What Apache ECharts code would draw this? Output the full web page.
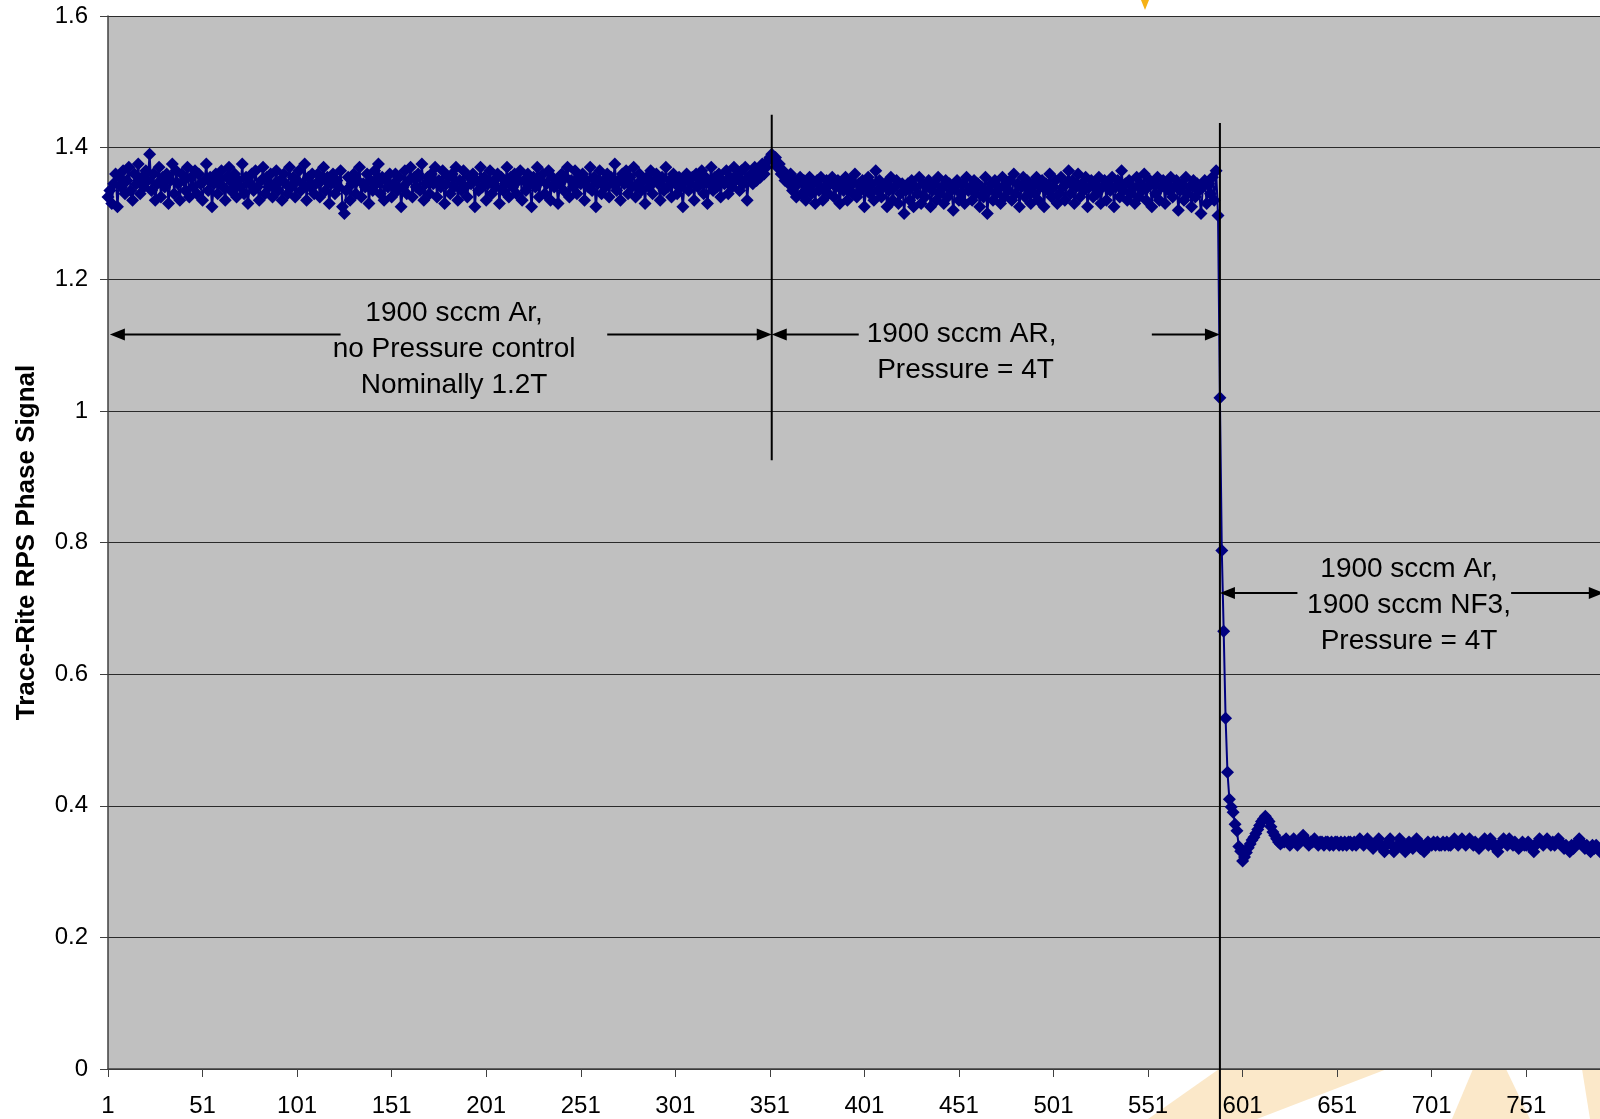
<!DOCTYPE html>
<html><head><meta charset="utf-8">
<script src="https://cdn.jsdelivr.net/npm/echarts@6/dist/echarts.min.js"></script>
<style>html,body{margin:0;padding:0;background:#fff}#chart{width:1600px;height:1119px}</style>
</head><body><div id="chart"></div>
<script>
// Sample 1..351 : 1900 sccm Ar, no pressure control
const seg1ArNoControl = [
1.325,1.335,1.315,1.345,1.36,1.31,1.355,1.34,1.365,1.33,
1.35,1.37,1.335,1.32,1.36,1.345,1.375,1.33,1.355,1.34,
1.365,1.35,1.39,1.335,1.36,1.32,1.345,1.37,1.325,1.355,
1.34,1.36,1.315,1.35,1.375,1.33,1.365,1.345,1.32,1.36,
1.35,1.335,1.37,1.325,1.355,1.34,1.365,1.33,1.36,1.345,
1.32,1.35,1.375,1.335,1.355,1.31,1.345,1.36,1.33,1.35,
1.365,1.34,1.32,1.355,1.37,1.335,1.345,1.36,1.325,1.35,
1.34,1.375,1.33,1.355,1.315,1.345,1.36,1.335,1.365,1.34,
1.32,1.35,1.37,1.33,1.355,1.34,1.36,1.325,1.345,1.365,
1.335,1.35,1.32,1.36,1.345,1.33,1.37,1.34,1.355,1.325,
1.35,1.365,1.335,1.345,1.375,1.32,1.355,1.34,1.36,1.33,
1.345,1.36,1.325,1.35,1.37,1.335,1.355,1.315,1.345,1.36,
1.33,1.35,1.34,1.365,1.31,1.30,1.335,1.355,1.32,1.345,
1.36,1.33,1.35,1.37,1.325,1.345,1.34,1.36,1.315,1.35,
1.335,1.365,1.345,1.375,1.33,1.355,1.32,1.35,1.34,1.36,
1.325,1.345,1.36,1.335,1.355,1.31,1.34,1.365,1.33,1.35,
1.37,1.325,1.355,1.34,1.36,1.335,1.375,1.32,1.345,1.355,
1.33,1.36,1.345,1.37,1.325,1.35,1.34,1.365,1.315,1.345,
1.355,1.33,1.36,1.34,1.37,1.32,1.35,1.335,1.365,1.34,
1.325,1.355,1.345,1.36,1.31,1.35,1.335,1.37,1.34,1.355,
1.32,1.345,1.365,1.33,1.35,1.34,1.36,1.315,1.355,1.335,
1.345,1.37,1.325,1.355,1.34,1.36,1.33,1.35,1.365,1.32,
1.35,1.335,1.36,1.345,1.31,1.355,1.34,1.37,1.325,1.35,
1.36,1.33,1.345,1.365,1.32,1.355,1.34,1.35,1.315,1.345,
1.36,1.335,1.355,1.37,1.325,1.35,1.34,1.365,1.33,1.355,
1.345,1.36,1.32,1.35,1.34,1.37,1.335,1.355,1.31,1.345,
1.365,1.33,1.35,1.34,1.36,1.325,1.355,1.345,1.375,1.335,
1.35,1.32,1.36,1.345,1.365,1.33,1.355,1.34,1.37,1.325,
1.345,1.36,1.335,1.35,1.315,1.355,1.34,1.365,1.33,1.35,
1.36,1.345,1.32,1.355,1.335,1.37,1.34,1.35,1.325,1.36,
1.345,1.33,1.355,1.34,1.31,1.35,1.36,1.335,1.345,1.355,
1.32,1.36,1.34,1.35,1.365,1.33,1.355,1.315,1.345,1.37,
1.335,1.355,1.34,1.36,1.325,1.35,1.345,1.365,1.33,1.355,
1.34,1.37,1.35,1.36,1.335,1.365,1.345,1.37,1.32,1.355,
1.36,1.345,1.37,1.35,1.365,1.355,1.375,1.36,1.37,1.38,
1.385
];
// Sample 352..588 : 1900 sccm AR, Pressure = 4T
const seg2ArPressure4T = [
1.39,1.38,1.385,1.37,1.375,1.36,1.365,1.35,1.355,1.345,
1.36,1.335,1.35,1.325,1.345,1.355,1.33,1.35,1.32,1.34,
1.355,1.33,1.345,1.315,1.35,1.335,1.355,1.32,1.34,1.35,
1.33,1.345,1.355,1.325,1.34,1.35,1.315,1.345,1.335,1.355,
1.32,1.34,1.35,1.33,1.36,1.325,1.345,1.335,1.35,1.31,
1.34,1.355,1.33,1.345,1.32,1.365,1.335,1.35,1.325,1.34,
1.345,1.31,1.335,1.355,1.32,1.34,1.35,1.315,1.33,1.345,
1.30,1.335,1.345,1.32,1.35,1.31,1.34,1.33,1.355,1.315,
1.345,1.325,1.34,1.35,1.31,1.335,1.345,1.32,1.355,1.33,
1.34,1.315,1.35,1.325,1.345,1.335,1.305,1.34,1.35,1.32,
1.33,1.345,1.315,1.355,1.335,1.34,1.32,1.35,1.33,1.345,
1.31,1.34,1.325,1.355,1.30,1.335,1.345,1.32,1.35,1.33,
1.34,1.315,1.355,1.325,1.345,1.335,1.35,1.32,1.36,1.33,
1.345,1.31,1.34,1.355,1.325,1.35,1.335,1.315,1.345,1.33,
1.355,1.32,1.34,1.35,1.31,1.345,1.335,1.36,1.325,1.34,
1.35,1.315,1.33,1.355,1.34,1.32,1.345,1.365,1.33,1.35,
1.315,1.34,1.36,1.325,1.345,1.335,1.355,1.31,1.34,1.35,
1.325,1.345,1.33,1.355,1.315,1.34,1.35,1.32,1.345,1.335,
1.355,1.31,1.34,1.35,1.325,1.365,1.335,1.345,1.32,1.35,
1.33,1.34,1.315,1.355,1.325,1.345,1.335,1.36,1.32,1.34,
1.35,1.31,1.345,1.33,1.355,1.32,1.34,1.35,1.315,1.345,
1.335,1.355,1.325,1.34,1.35,1.305,1.335,1.345,1.32,1.355,
1.33,1.34,1.31,1.35,1.325,1.345,1.335,1.30,1.34,1.35,
1.315,1.345,1.33,1.355,1.32,1.365,1.297
];
// Sample 589..622 : NF3 switched on, transient
const seg3Transient = [
1.02,0.788,0.665,0.533,0.451,0.41,0.398,0.39,0.372,0.362,
0.338,0.331,0.316,0.322,0.329,0.336,0.342,0.348,0.352,0.358,
0.364,0.37,0.376,0.38,0.384,0.38,0.376,0.368,0.36,0.355,
0.35,0.345,0.342,0.345
];
// Sample 623..790 : 1900 sccm Ar + 1900 sccm NF3, Pressure = 4T
const seg4ArNF3 = [
0.345,0.35,0.345,0.34,0.345,0.35,0.345,0.34,0.345,0.35,
0.355,0.35,0.345,0.34,0.345,0.345,0.35,0.345,0.34,0.345,
0.345,0.34,0.345,0.345,0.34,0.345,0.34,0.345,0.345,0.34,
0.345,0.34,0.345,0.34,0.345,0.345,0.34,0.345,0.34,0.345,
0.35,0.345,0.34,0.345,0.35,0.345,0.34,0.335,0.34,0.345,
0.35,0.34,0.335,0.33,0.34,0.345,0.35,0.34,0.33,0.335,
0.34,0.35,0.345,0.335,0.33,0.34,0.345,0.34,0.335,0.345,
0.35,0.34,0.335,0.34,0.33,0.34,0.345,0.34,0.34,0.345,
0.34,0.345,0.34,0.34,0.345,0.34,0.345,0.34,0.34,0.345,
0.35,0.345,0.34,0.345,0.35,0.345,0.34,0.345,0.35,0.345,
0.34,0.345,0.34,0.335,0.34,0.345,0.35,0.345,0.34,0.35,
0.345,0.34,0.335,0.33,0.34,0.345,0.35,0.345,0.34,0.35,
0.345,0.34,0.345,0.34,0.335,0.34,0.345,0.34,0.34,0.345,
0.34,0.335,0.33,0.34,0.345,0.35,0.345,0.34,0.345,0.35,
0.345,0.34,0.345,0.34,0.345,0.35,0.345,0.34,0.335,0.34,
0.335,0.33,0.34,0.335,0.34,0.345,0.35,0.345,0.34,0.335,
0.34,0.335,0.33,0.34,0.335,0.34,0.335,0.33
];

const phaseSignal = [].concat(seg1ArNoControl, seg2ArPressure4T, seg3Transient, seg4ArNF3);
const sampleLabels = phaseSignal.map((_, i) => String(i + 1));
const yMin = 0, yMax = 1.6, yStep = 0.2;
const xLabelEvery = 50;

// annotations in data coordinates (x = sample index, y = signal value)
const dividerLines = [
  { x: 351, yTop: 1.45, yBottom: 0.925 },
  { x: 588, yTop: 1.4375, yBottom: null }
];
const arrowLines = [
  { from: 123, to: 1,   y: 1.116 },
  { from: 264, to: 351, y: 1.116 },
  { from: 397, to: 351, y: 1.116 },
  { from: 552, to: 588, y: 1.116 },
  { from: 629, to: 588, y: 0.7233 },
  { from: 742, to: 791, y: 0.7233 }
];
const regionNotes = [
  { text: '1900 sccm Ar,\nno Pressure control\nNominally 1.2T', x: 183, y: 1.0935 },
  { text: '1900 sccm AR,\n Pressure = 4T', x: 451.4, y: 1.089 },
  { text: '1900 sccm Ar,\n1900 sccm NF3,\nPressure = 4T', x: 688, y: 0.705 }
];

const FONT = '"Liberation Sans", Arial, sans-serif';
const chart = echarts.init(document.getElementById('chart'), null, { renderer: 'canvas' });

chart.setOption({
  animation: false,
  backgroundColor: '#ffffff',
  grid: { left: 108, top: 16, right: 0, bottom: 50, show: true, backgroundColor: '#C0C0C0', borderWidth: 0 },
  xAxis: {
    type: 'category',
    data: sampleLabels,
    boundaryGap: false,
    axisLine: { show: true, lineStyle: { color: '#404040', width: 1.5 } },
    axisTick: { show: true, interval: xLabelEvery - 1, length: 8, inside: false, lineStyle: { color: '#404040', width: 1 } },
    axisLabel: { interval: xLabelEvery - 1, fontSize: 24, color: '#000', fontFamily: FONT, margin: 25 },
    splitLine: { show: false }
  },
  yAxis: {
    type: 'value',
    min: yMin, max: yMax, interval: yStep,
    name: 'Trace-Rite RPS Phase Signal',
    nameLocation: 'middle',
    nameRotate: 90,
    nameGap: 68,
    nameTextStyle: { fontSize: 26, fontWeight: 'bold', color: '#000', fontFamily: FONT },
    axisLine: { show: true, lineStyle: { color: '#404040', width: 1.5 } },
    axisTick: { show: true, length: 8, inside: false, lineStyle: { color: '#404040', width: 1 } },
    axisLabel: { fontSize: 24, color: '#000', fontFamily: FONT, margin: 20 },
    splitLine: { show: true, lineStyle: { color: '#2a2a2a', width: 1 } }
  },
  series: [{
    type: 'line',
    data: phaseSignal,
    symbol: 'diamond',
    symbolSize: 13,
    showAllSymbol: true,
    clip: false,
    itemStyle: { color: '#000080' },
    lineStyle: { color: '#000080', width: 2 },
    z: 2
  }]
});

function px(i) {
  const a = chart.convertToPixel({ xAxisIndex: 0 }, 0);
  const b = chart.convertToPixel({ xAxisIndex: 0 }, phaseSignal.length - 1);
  return a + i * (b - a) / (phaseSignal.length - 1);
}
function py(v) { return chart.convertToPixel({ yAxisIndex: 0 }, v); }

const H = chart.getHeight();
const els = [];
// background watermark pieces (slide background)
const peach = '#FBE8C9';
const axisY = py(0);
els.push({ type: 'polygon', z: -10, silent: true, shape: { points: [[1148, H], [1219, axisY], [1387, axisY], [1257, H]] }, style: { fill: peach } });
els.push({ type: 'polygon', z: -10, silent: true, shape: { points: [[1452, H], [1473, axisY], [1506, axisY], [1530, H]] }, style: { fill: peach } });
els.push({ type: 'polygon', z: -10, silent: true, shape: { points: [[1582, axisY], [1600, axisY], [1600, H], [1590, H]] }, style: { fill: peach } });
els.push({ type: 'polygon', z: 50, silent: true, shape: { points: [[1141, 0], [1149, 0], [1145, 10]] }, style: { fill: '#F5B115' } });

dividerLines.forEach(d => {
  els.push({ type: 'line', z: 60, silent: true,
    shape: { x1: px(d.x), y1: py(d.yTop), x2: px(d.x), y2: d.yBottom === null ? H : py(d.yBottom) },
    style: { stroke: '#000', lineWidth: 2 } });
});
arrowLines.forEach(a => {
  const x1 = px(a.from), x2 = px(a.to), y = py(a.y);
  const dir = x2 > x1 ? 1 : -1;
  const hl = 15, hw = 6;
  els.push({ type: 'line', z: 60, silent: true, shape: { x1: x1, y1: y, x2: x2 - dir * hl * 0.6, y2: y }, style: { stroke: '#000', lineWidth: 2 } });
  els.push({ type: 'polygon', z: 60, silent: true, shape: { points: [[x2, y], [x2 - dir * hl, y - hw], [x2 - dir * hl, y + hw]] }, style: { fill: '#000' } });
});
regionNotes.forEach(n => {
  els.push({ type: 'text', z: 60, silent: true,
    style: { text: n.text, x: px(n.x), y: py(n.y), fill: '#000', fontSize: 28, fontFamily: FONT, lineHeight: 36, align: 'center', verticalAlign: 'middle' } });
});
chart.setOption({ graphic: { elements: els } });
</script>
</body></html>
